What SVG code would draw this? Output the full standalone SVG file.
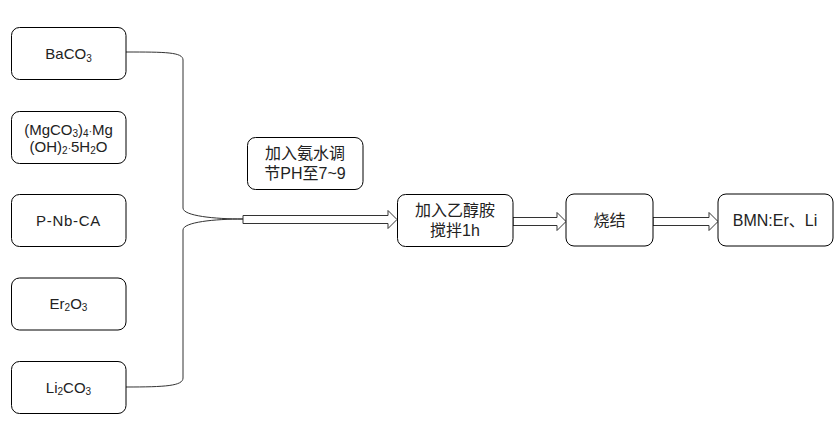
<svg xmlns="http://www.w3.org/2000/svg" width="838" height="439" viewBox="0 0 838 439">
<style>
.box{fill:#fff;stroke:#000;stroke-width:1}
.t{font-family:"Liberation Sans","Noto Sans CJK SC",sans-serif;font-size:15px;fill:#222;text-anchor:middle}
.c{font-family:"Liberation Sans","Noto Sans CJK SC",sans-serif;font-size:16px;fill:#222;text-anchor:middle}
.sub{font-size:10px}
.conn{fill:none;stroke:#333;stroke-width:1}
.arr{fill:#fff;stroke:#333;stroke-width:1;stroke-linejoin:miter}
</style>
<rect width="838" height="439" fill="#fff"/>
<g id="connectors">
<path class="conn" d="M126,52 C165,52 183,52 183,60 L183,208 C183,216 215,219 243,219"/>
<path class="conn" d="M126,387 C165,387 183,386 183,378 L183,230 C183,222 215,219 243,219"/>
<polygon class="arr" points="243,215.5 388,215.5 388,210.5 397,219.5 388,228.5 388,223.5 243,223.5"/>
<polygon class="arr" points="513,217.5 557,217.5 557,212.5 566,221.5 557,230.5 557,225.5 513,225.5"/>
<polygon class="arr" points="653,217.5 709,217.5 709,212.5 718,221.5 709,230.5 709,225.5 653,225.5"/>
</g>
<g id="baco3">
<rect class="box" x="11.5" y="27.5" width="114.5" height="52" rx="8"/>
<text class="t" x="68.5" y="58.5">BaCO<tspan class="sub" dy="3">3</tspan></text>
</g>
<g id="mgco3">
<rect class="box" x="11.5" y="111.5" width="114.5" height="52" rx="8"/>
<text class="t" x="68.5" y="135">(MgCO<tspan class="sub" dy="2">3</tspan><tspan dy="-2">)</tspan><tspan class="sub" dy="2">4</tspan><tspan class="sub" dy="-2">·</tspan>Mg</text>
<text class="t" x="68.5" y="152">(OH)<tspan class="sub" dy="2">2</tspan><tspan class="sub" dy="-2">·</tspan>5H<tspan class="sub" dy="2">2</tspan><tspan dy="-2">O</tspan></text>
</g>
<g id="pnbca">
<rect class="box" x="11.5" y="194.5" width="114.5" height="52" rx="8"/>
<text class="t" x="68.5" y="225.5" letter-spacing="0.7">P-Nb-CA</text>
</g>
<g id="er2o3">
<rect class="box" x="11.5" y="278" width="114.5" height="52" rx="8"/>
<text class="t" x="68.5" y="309">Er<tspan class="sub" dy="2">2</tspan><tspan dy="-2">O</tspan><tspan class="sub" dy="2">3</tspan></text>
</g>
<g id="li2co3">
<rect class="box" x="11.5" y="361.5" width="114.5" height="52" rx="8"/>
<text class="t" x="68.5" y="392.5">Li<tspan class="sub" dy="2">2</tspan><tspan dy="-2">CO</tspan><tspan class="sub" dy="2">3</tspan></text>
</g>
<g id="ammonia">
<rect class="box" x="247.5" y="137.5" width="115.5" height="52" rx="8"/>
<text class="c" x="305" y="159">加入氨水调</text>
<text class="c" x="305" y="179">节PH至7~9</text>
</g>
<g id="ethanolamine">
<rect class="box" x="397.5" y="194.5" width="115.5" height="52" rx="8"/>
<text class="c" x="455" y="216">加入乙醇胺</text>
<text class="c" x="455" y="236">搅拌1h</text>
</g>
<g id="sinter">
<rect class="box" x="566" y="194" width="87" height="52" rx="8"/>
<text class="c" x="609.5" y="225.5">烧结</text>
</g>
<g id="bmn">
<rect class="box" x="718" y="194" width="115" height="52" rx="8"/>
<text class="c" x="775" y="225.5">BMN:Er、Li</text>
</g>
</svg>
